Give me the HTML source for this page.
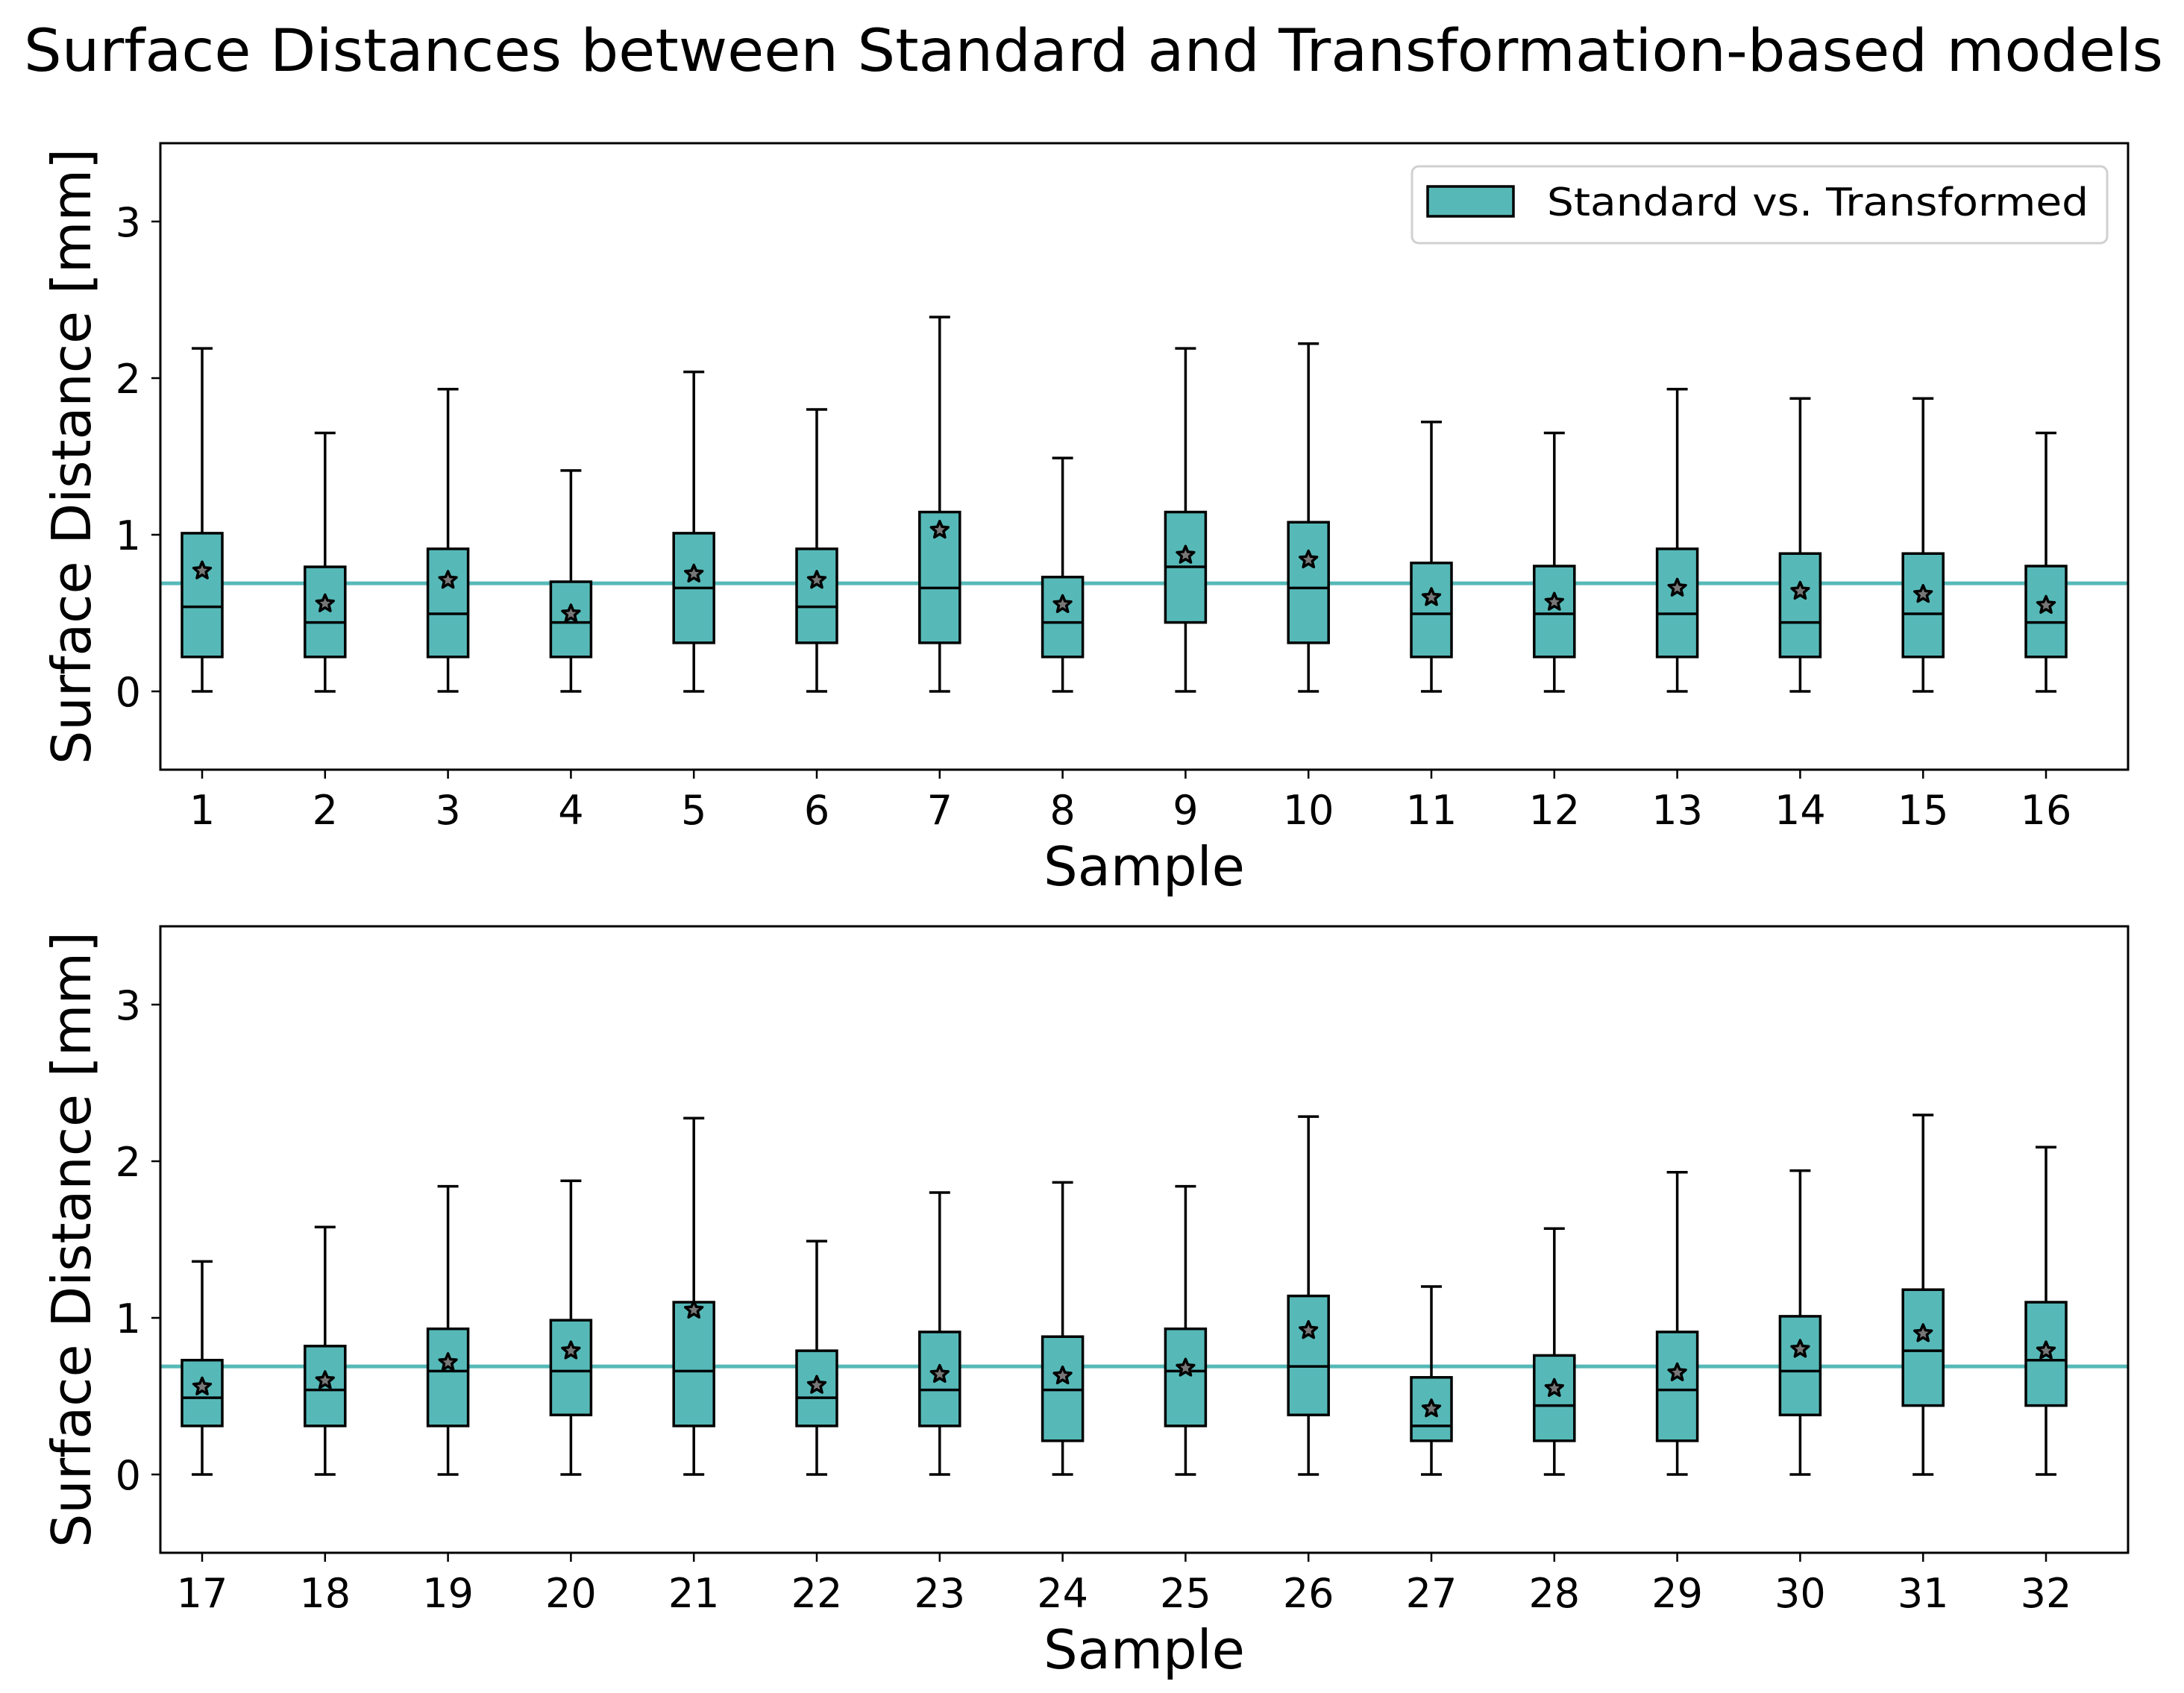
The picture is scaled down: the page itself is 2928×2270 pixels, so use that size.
<!DOCTYPE html>
<html><head><meta charset="utf-8"><style>
html,body{margin:0;padding:0;background:#fff}
svg{display:block}
text{font-family:"DejaVu Sans","Liberation Sans",sans-serif;fill:#000}
</style></head><body>
<svg id="chart" xmlns="http://www.w3.org/2000/svg" width="2928" height="2270" viewBox="0 0 2928 2270">
<rect x="0" y="0" width="2928" height="2270" fill="#fff"/>
<text x="1466" y="95" font-size="78" text-anchor="middle" textLength="2868" lengthAdjust="spacingAndGlyphs">Surface Distances between Standard and Transformation-based models</text>
<g id="panels"></g>
</svg>
<script>
// Panel 1 (samples 1-16)
const samples1 = [1,2,3,4,5,6,7,8,9,10,11,12,13,14,15,16];
const whiskLow1 = [0,0,0,0,0,0,0,0,0,0,0,0,0,0,0,0];
const q1_1 = [0.22,0.22,0.22,0.22,0.31,0.31,0.31,0.22,0.44,0.31,0.22,0.22,0.22,0.22,0.22,0.22];
const median1 = [0.54,0.44,0.495,0.44,0.66,0.54,0.66,0.44,0.795,0.66,0.495,0.495,0.495,0.44,0.495,0.44];
const q3_1 = [1.01,0.795,0.91,0.70,1.01,0.91,1.145,0.73,1.145,1.08,0.82,0.80,0.91,0.88,0.88,0.80];
const whiskHigh1 = [2.19,1.65,1.93,1.41,2.04,1.80,2.39,1.49,2.19,2.22,1.72,1.65,1.93,1.87,1.87,1.65];
const mean1 = [0.77,0.56,0.71,0.495,0.75,0.71,1.03,0.555,0.87,0.84,0.60,0.57,0.66,0.64,0.62,0.55];
// Panel 2 (samples 17-32)
const samples2 = [17,18,19,20,21,22,23,24,25,26,27,28,29,30,31,32];
const whiskLow2 = [0,0,0,0,0,0,0,0,0,0,0,0,0,0,0,0];
const q1_2 = [0.31,0.31,0.31,0.38,0.31,0.31,0.31,0.215,0.31,0.38,0.215,0.215,0.215,0.38,0.44,0.44];
const median2 = [0.49,0.54,0.66,0.66,0.66,0.49,0.54,0.54,0.66,0.69,0.31,0.44,0.54,0.66,0.79,0.73];
const q3_2 = [0.73,0.82,0.93,0.985,1.10,0.79,0.91,0.88,0.93,1.14,0.62,0.76,0.91,1.01,1.18,1.10];
const whiskHigh2 = [1.36,1.58,1.84,1.875,2.275,1.49,1.80,1.865,1.84,2.285,1.20,1.57,1.93,1.94,2.295,2.09];
const mean2 = [0.56,0.60,0.715,0.79,1.05,0.57,0.64,0.63,0.68,0.92,0.42,0.55,0.65,0.80,0.90,0.79];
const refLine = 0.69;
const yTicks = [0,1,2,3];
const yMin = -0.5, yMax = 3.5;

const NS = "http://www.w3.org/2000/svg";
const root = document.getElementById('panels');
const TEAL = "#56b9b8";
function mk(tag, attrs, parent){
  const e = document.createElementNS(NS, tag);
  for (const k in attrs) e.setAttribute(k, attrs[k]);
  (parent||root).appendChild(e);
  return e;
}
function starPath(cx, cy, R){
  const r = R*0.45; let d = "";
  for (let i=0;i<10;i++){
    const a = -Math.PI/2 + i*Math.PI/5;
    const rr = i%2===0 ? R : r;
    d += (i===0?"M":"L") + (cx+rr*Math.cos(a)).toFixed(1) + "," + (cy+rr*Math.sin(a)).toFixed(1);
  }
  return d+"Z";
}
function drawPanel(top, cats, lo, q1, med, q3, hi, mean, idx, withLegend){
  const L = 215, R = 2853, T = top, B = top + 840;
  const x0 = 271, dx = (2743-271)/15;
  const xs = i => x0 + i*dx;
  const ys = v => B - (v - yMin)/(yMax - yMin)*(B - T);
  const g = mk('g', {});
  
  
  const rl = mk('line', {x1:L, x2:R, y1:ys(refLine), y2:ys(refLine), stroke:TEAL, 'stroke-width':5}, g);
  
  
  const bw = 54, cw = 28;
  cats.forEach((c, i) => {
    const x = xs(i);
    const bg = mk('g', {}, g);
    
    
    mk('line', {x1:x, x2:x, y1:ys(q3[i]), y2:ys(hi[i]), stroke:'#000', 'stroke-width':3.5}, bg);
    mk('line', {x1:x, x2:x, y1:ys(lo[i]), y2:ys(q1[i]), stroke:'#000', 'stroke-width':3.5}, bg);
    mk('line', {x1:x-cw/2, x2:x+cw/2, y1:ys(hi[i]), y2:ys(hi[i]), stroke:'#000', 'stroke-width':3.5}, bg);
    mk('line', {x1:x-cw/2, x2:x+cw/2, y1:ys(lo[i]), y2:ys(lo[i]), stroke:'#000', 'stroke-width':3.5}, bg);
    mk('rect', {x:x-bw/2, y:ys(q3[i]), width:bw, height:ys(q1[i])-ys(q3[i]), fill:TEAL, stroke:'#000', 'stroke-width':3.5}, bg);
    mk('line', {x1:x-bw/2, x2:x+bw/2, y1:ys(med[i]), y2:ys(med[i]), stroke:'#000', 'stroke-width':3.5}, bg);
    mk('path', {d:starPath(x, ys(mean[i]), 12), fill:'#777', stroke:'#000', 'stroke-width':3.5, 'stroke-linejoin':'round'}, bg);
    mk('line', {x1:x, x2:x, y1:B, y2:B+12, stroke:'#000', 'stroke-width':2.5}, g);
    const t = mk('text', {x:x, y:B+73, 'font-size':54, 'text-anchor':'middle'}, g);
    t.textContent = c;
    
    
  });
  yTicks.forEach(v => {
    mk('line', {x1:L-12, x2:L, y1:ys(v), y2:ys(v), stroke:'#000', 'stroke-width':2.5}, g);
    const t = mk('text', {x:L-26, y:ys(v)+20, 'font-size':54, 'text-anchor':'end'}, g);
    t.textContent = v;
    
    
  });
  const fr = mk('rect', {x:L, y:T, width:R-L, height:B-T, fill:'none', stroke:'#000', 'stroke-width':3}, g);
  
  
  const xl = mk('text', {x:(L+R)/2, y:B+155, 'font-size':72, 'text-anchor':'middle'}, g);
  xl.textContent = 'Sample';
  
  
  const yl = mk('text', {x:0, y:0, 'font-size':72, 'text-anchor':'middle', textLength:826, lengthAdjust:'spacingAndGlyphs', transform:'translate(121,' + ((T+B)/2) + ') rotate(-90)'}, g);
  yl.textContent = 'Surface Distance [mm]';
  
  
  if (withLegend){
    const lg = mk('g', {}, g);
    
    
    mk('rect', {x:1893, y:223, width:932, height:103, rx:9, fill:'#fff', stroke:'#d0d0d0', 'stroke-width':3}, lg);
    const p = mk('rect', {x:1914, y:250, width:115, height:40, fill:TEAL, stroke:'#000', 'stroke-width':3.5}, lg);
    
    
    const lt = mk('text', {x:2074, y:289, 'font-size':52, textLength:726, lengthAdjust:'spacingAndGlyphs'}, lg);
    lt.textContent = 'Standard vs. Transformed';
    
    
  }
}
drawPanel(192, samples1, whiskLow1, q1_1, median1, q3_1, whiskHigh1, mean1, 1, true);
drawPanel(1242, samples2, whiskLow2, q1_2, median2, q3_2, whiskHigh2, mean2, 2, false);
</script>
</body></html>
